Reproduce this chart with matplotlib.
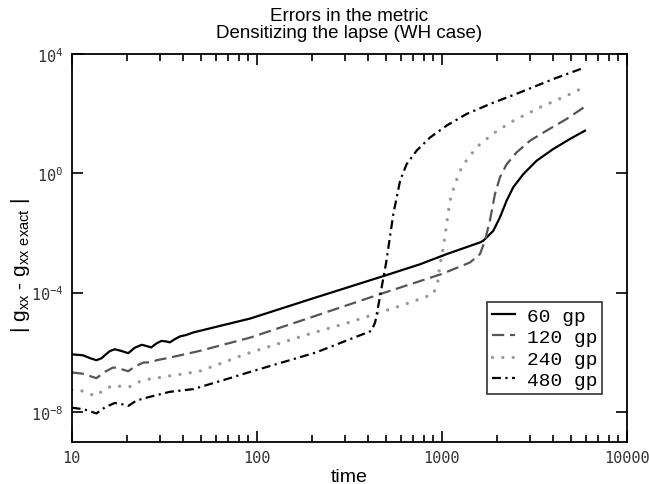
import numpy as np
import matplotlib
matplotlib.use("Agg")
from matplotlib import pyplot as plt
from matplotlib import ticker

plt.rcParams['mathtext.fontset'] = 'custom'
plt.rcParams['mathtext.rm'] = 'Liberation Sans'
plt.rcParams['mathtext.tt'] = 'DejaVu Sans Mono'

# Data (time, error)
t_60 = [10, 11.5, 12.6, 13.6, 14.5, 15.1, 16.1, 17.1, 18.6, 20.2, 21.9, 23.9,
        25.7, 26.9, 28.8, 30.6, 32.4, 33.9, 36.3, 38.5, 41.7, 45.4, 63.1,
        92.3, 195, 479, 764, 1064, 1611, 1679, 1901, 2065, 2244, 2438, 2761,
        3258, 4009, 4932, 5957]
e_60 = [8.5e-7, 7.9e-7, 6.3e-7, 5.4e-7, 6.3e-7, 7.9e-7, 1.1e-6, 1.26e-6,
        1.1e-6, 9.3e-7, 1.41e-6, 1.78e-6, 1.58e-6, 1.45e-6, 2.0e-6, 2.4e-6,
        2.3e-6, 2.14e-6, 2.8e-6, 3.4e-6, 3.8e-6, 4.6e-6, 7.6e-6, 1.35e-5,
        6.0e-5, 3.5e-4, 8.9e-4, 1.95e-3, 4.8e-3, 5.5e-3, 1.17e-2, 3.3e-2,
        0.12, 0.34, 0.93, 2.63, 6.5, 14.1, 26.9]

t_120 = [10, 11.5, 13.6, 15.1, 16.8, 18.6, 20.2, 21.9, 24.4, 26.9, 28.8, 33.9,
         49.0, 92.3, 195, 465, 1000, 1422, 1611, 1714, 1824, 1941, 2065, 2244,
         2541, 3000, 3690, 4732, 5875]
e_120 = [2.1e-7, 1.9e-7, 1.35e-7, 2.2e-7, 3.1e-7, 2.7e-7, 2.3e-7, 3.3e-7,
         4.5e-7, 4.6e-7, 5.4e-7, 6.6e-7, 1.1e-6, 3.1e-6, 1.45e-5, 8.9e-5,
         4.2e-4, 1.02e-3, 1.95e-3, 5.5e-3, 2.6e-2, 0.20, 0.72, 2.0, 5.0, 12.3,
         26.9, 66, 162]

t_240 = [10, 11.5, 13.4, 14.8, 16.4, 18.6, 20.7, 22.9, 26.3, 31.6, 49.0, 92.3,
         195, 316, 631, 902, 955, 977, 1021, 1064, 1109, 1180, 1282, 1422,
         1611, 1941, 2438, 3396, 4732, 5875]
e_240 = [5.5e-8, 5.0e-8, 3.4e-8, 5.2e-8, 7.4e-8, 7.2e-8, 7.1e-8, 1.0e-7,
         1.26e-7, 1.5e-7, 2.3e-7, 9.8e-7, 4.2e-6, 1.0e-5, 4.0e-5, 8.9e-5,
         2.5e-4, 7.9e-4, 3.2e-3, 2.0e-2, 0.12, 0.44, 1.58, 3.9, 9.5, 23.4,
         57.5, 162, 398, 759]

t_480 = [10, 11.6, 13.6, 15.1, 17.1, 18.6, 20.2, 22.4, 25.4, 33.9, 45.4, 68.9,
         92.3, 209, 417, 437, 454, 501, 548, 596, 646, 733, 865, 1064, 1365,
         1820, 2649, 4009, 5957]
e_480 = [1.38e-8, 1.23e-8, 8.9e-9, 1.41e-8, 2.0e-8, 1.82e-8, 1.58e-8,
         2.4e-8, 3.0e-8, 4.7e-8, 5.8e-8, 1.26e-7, 2.2e-7, 9.8e-7, 5.2e-6,
         1.0e-5, 3.5e-5, 1.0e-3, 4.3e-2, 0.56, 2.0, 5.8, 15.8, 39.8, 97.7,
         209, 513, 1445, 3550]

labels = ['60 gp', '120 gp', '240 gp', '480 gp']
x_ticks = [10, 100, 1000, 10000]
y_ticks = [1e-8, 1e-4, 1e0, 1e4]

fig = plt.figure(figsize=(6.49, 4.85), dpi=100)
ax = fig.add_axes([0.1105, 0.0872, 0.855, 0.7994])

ax.plot(t_60, e_60, color='black', lw=1.6, label=labels[0])
ax.plot(t_120, e_120, color='#555555', lw=1.6, dashes=(5.5, 2.6),
        label=labels[1])
ax.plot(t_240, e_240, color='#999999', lw=2.4, dashes=(0.01, 3.1),
        dash_capstyle='round', label=labels[2])
ax.plot(t_480, e_480, color='black', lw=1.6, dashes=(4.0, 2.0, 1.0, 2.0),
        label=labels[3])

ax.set_xscale('log')
ax.set_yscale('log')
ax.set_xlim(10, 10000)
ax.set_ylim(1e-9, 1e4)

ax.xaxis.set_major_locator(ticker.FixedLocator(x_ticks))
ax.xaxis.set_minor_locator(ticker.LogLocator(base=10, subs=np.arange(2, 10)))
ax.xaxis.set_minor_formatter(ticker.NullFormatter())
ax.xaxis.set_major_formatter(ticker.FuncFormatter(lambda v, p: '%d' % v))
ax.yaxis.set_major_locator(ticker.FixedLocator(y_ticks))
ax.yaxis.set_minor_locator(ticker.NullLocator())
ax.yaxis.set_major_formatter(ticker.FuncFormatter(
    lambda v, p: r'$\mathtt{10^{%d}}$' % round(np.log10(v))))

ax.tick_params(which='both', direction='in', top=True, right=True,
               width=1.2, colors='black', labelcolor='#333333')
ax.tick_params(which='major', length=8, labelsize=11, pad=6)
ax.tick_params(which='minor', length=5)
for lab in ax.get_xticklabels() + ax.get_yticklabels():
    lab.set_fontfamily('DejaVu Sans Mono')
for s in ax.spines.values():
    s.set_linewidth(1.3)

ax.set_xlabel('time', fontsize=14, family='Liberation Sans', labelpad=2)
ax.set_ylabel(r'| $\mathrm{g_{xx}}$ - $\mathrm{g_{xx\ exact}}$ |',
              fontsize=15, family='Liberation Sans')
ax.yaxis.set_label_coords(-0.072, 0.458)
ax.set_title('Errors in the metric\nDensitizing the lapse (WH case)',
             fontsize=13.5, family='Liberation Sans', pad=12, linespacing=1.05)

leg = ax.legend(loc='lower right', bbox_to_anchor=(0.9555, 0.123),
                prop={'family': 'Liberation Mono', 'size': 14},
                handlelength=1.2, handletextpad=0.6, labelspacing=0.2,
                borderpad=0.25, borderaxespad=0, fancybox=False,
                framealpha=1, edgecolor='#333333')
leg.get_frame().set_linewidth(1.2)

fig.savefig('out.png', dpi=100)
